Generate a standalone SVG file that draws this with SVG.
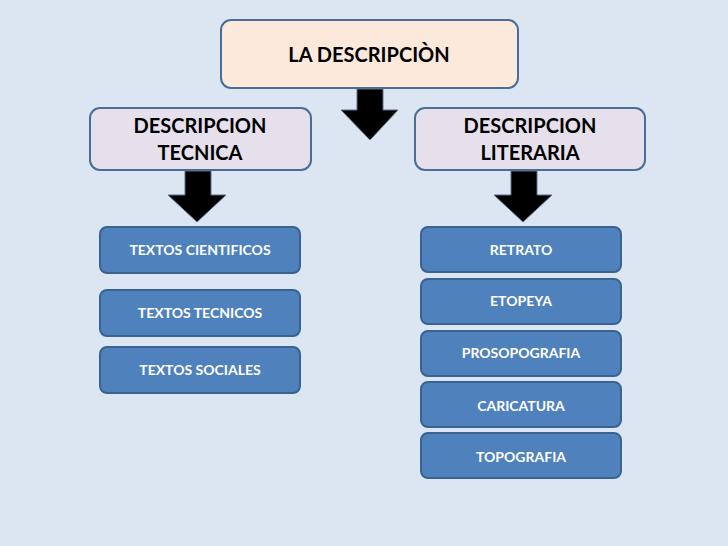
<svg xmlns="http://www.w3.org/2000/svg" width="728" height="546" viewBox="0 0 728 546">
<style>
text{font-family:Lato,"Liberation Sans",sans-serif;font-weight:bold;text-anchor:middle}
.top{fill:#fce9dc;stroke:#4a6d96;stroke-width:2}
.mid{fill:#e6e0ec;stroke:#4a6d96;stroke-width:2}
.blue{fill:#4f81bd;stroke:#3a6391;stroke-width:2}
.bt{fill:#fff;font-size:14px}
.dt{fill:#000;font-size:20px}
.arr{fill:#000;stroke:#5a6e86;stroke-width:1}
</style>
<rect width="728" height="546" fill="#dce6f2"/>
<g id="n_root"><rect class="top" x="221" y="20" width="297" height="68" rx="10"/><text class="dt" x="369" y="62" font-size="25">LA DESCRIPCIÒN</text></g>
<g id="n_tecnica"><rect class="mid" x="90" y="108" width="221" height="62" rx="10"/><text class="dt" x="200" y="133">DESCRIPCION</text><text class="dt" x="200" y="160">TECNICA</text></g>
<g id="n_literaria"><rect class="mid" x="415" y="108" width="230" height="62" rx="10"/><text class="dt" x="530" y="133">DESCRIPCION</text><text class="dt" x="530" y="160">LITERARIA</text></g>
<g id="n_l1"><rect class="blue" x="100" y="227" width="200" height="46" rx="7"/><text class="bt" x="200" y="255">TEXTOS CIENTIFICOS</text></g>
<g id="n_l2"><rect class="blue" x="100" y="290" width="200" height="46" rx="7"/><text class="bt" x="200" y="318">TEXTOS TECNICOS</text></g>
<g id="n_l3"><rect class="blue" x="100" y="347" width="200" height="46" rx="7"/><text class="bt" x="200" y="375">TEXTOS SOCIALES</text></g>
<g id="n_r1"><rect class="blue" x="421" y="227" width="200" height="45" rx="7"/><text class="bt" x="521" y="255">RETRATO</text></g>
<g id="n_r2"><rect class="blue" x="421" y="279" width="200" height="45" rx="7"/><text class="bt" x="521" y="306">ETOPEYA</text></g>
<g id="n_r3"><rect class="blue" x="421" y="331" width="200" height="45" rx="7"/><text class="bt" x="521" y="358">PROSOPOGRAFIA</text></g>
<g id="n_r4"><rect class="blue" x="421" y="382" width="200" height="45" rx="7"/><text class="bt" x="521" y="411">CARICATURA</text></g>
<g id="n_r5"><rect class="blue" x="421" y="433" width="200" height="45" rx="7"/><text class="bt" x="521" y="462">TOPOGRAFIA</text></g>
<g id="connectors">
<path class="arr" d="M357,89 H383 V110 H398 L370,140 L341,110 H357 Z"/>
<path class="arr" d="M185,171 H211 V195 H226 L197,222 L168,195 H185 Z"/>
<path class="arr" d="M511,171 H537 V195 H552 L523,222 L494,195 H511 Z"/>
</g>
</svg>
